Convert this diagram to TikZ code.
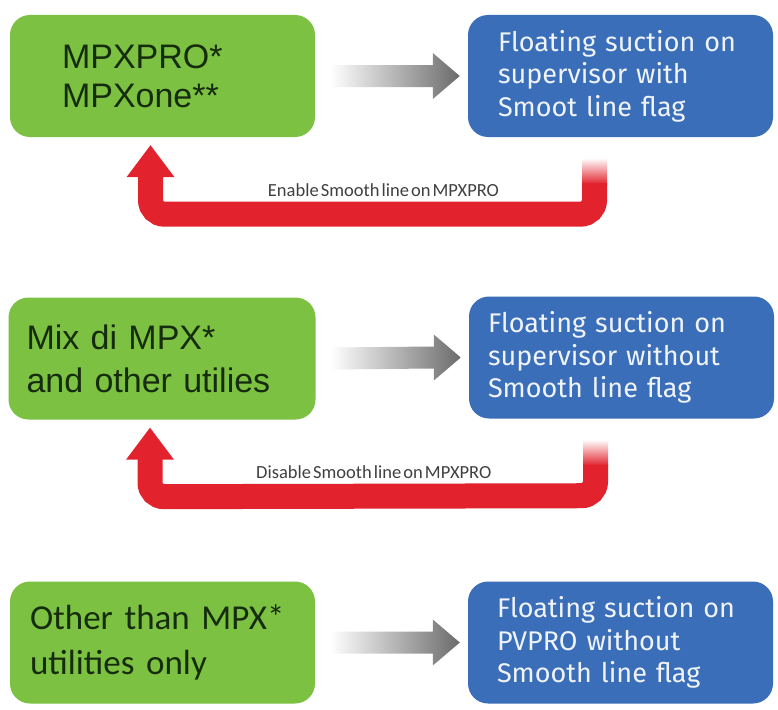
\documentclass[tikz,border=0pt]{standalone}
\usepackage{fontspec}
\setmainfont{Liberation Sans}
\newfontfamily\fira{Fira Sans}
\newfontfamily\carl{Carlito}
\newfontfamily\carltight{Carlito}[WordSpace=0.5]
\usetikzlibrary{calc}
\definecolor{gbox}{RGB}{124,193,66}
\definecolor{bbox}{RGB}{58,110,184}
\definecolor{rarr}{RGB}{226,35,45}
\definecolor{gtext}{RGB}{22,44,14}
\definecolor{btext}{RGB}{240,244,250}
\tikzset{
  greenbox/.style={fill=gbox, rounded corners=20pt, minimum width=305pt, minimum height=122pt,
    text=gtext, align=left, inner ysep=0pt},
  bluebox/.style={fill=bbox, rounded corners=20pt, minimum width=305pt, minimum height=122pt,
    text=btext, align=left, inner ysep=0pt, font=\fira\fontsize{27}{32.5}\selectfont},
  grayarr/.style={left color=white, right color=black!58, draw=none},
  redshaft/.style={draw=rarr, line width=25pt, rounded corners=14pt},
  redhead/.style={fill=rarr, draw=none},
  redfade/.style={top color=white, bottom color=rarr, draw=none},
  redlabel/.style={font=\carltight\fontsize{18.5}{22}\selectfont, text=black!75, inner sep=0pt},
}
\newcommand\grayconn[2]{%
  \shade[grayarr] ($(#1.east)+(15,-11)$) -- ($(#2.west)+(-35,-11)$) -- ($(#2.west)+(-35,-23)$)
    -- ($(#2.west)+(-8,0)$) -- ($(#2.west)+(-35,23)$) -- ($(#2.west)+(-35,11)$)
    -- ($(#1.east)+(15,11)$) -- cycle;}
\newcommand\redconn[2]{%
  \shade[redfade] ($(#1.south)+(-38.5,21)$) rectangle ($(#1.south)+(-13.5,47)$);
  \draw[redshaft] ($(#1.south)+(-26,46)$) -- ($(#1.south)+(-26,77)$)
    -- ($(#2.south)+(-12,77)$) -- ($(#2.south)+(-12,38)$);
  \fill[redhead] ($(#2.south)+(-36,40)$) -- ($(#2.south)+(-12,8)$) -- ($(#2.south)+(12,40)$) -- cycle;}
\begin{document}
\begin{tikzpicture}[x=1pt,y=-1pt]
\useasboundingbox[fill=white] (0,0) rectangle (778,709);

% row 1
\node[greenbox, inner xsep=52pt, text width=201pt, font=\fontsize{34}{39}\selectfont] (g1) at (162.5,76) {MPXPRO*\\MPXone**};
\node[bluebox, inner xsep=30pt, text width=245pt] (b1) at (620.5,76) {Floating suction on\\supervisor with\\Smoot line flag};
\grayconn{g1}{b1}
\redconn{b1}{g1}
\node[redlabel] (l1) at ($(g1.south)!0.5!(b1.south)+(-8,53)$) {Enable Smooth line on MPXPRO};

% row 2
\node[greenbox, inner xsep=18pt, text width=271pt, font=\fontsize{34}{43}\selectfont] (g2) at (162,358.5) {Mix di MPX*\\and other utilies};
\node[bluebox, inner xsep=18pt, text width=267pt] (b2) at (621.5,357.5) {Floating suction on\\supervisor without\\Smooth line flag};
\grayconn{g2}{b2}
\redconn{b2}{g2}
\node[redlabel] (l2) at ($(g2.south)!0.5!(b2.south)+(-18,53)$) {Disable Smooth line on MPXPRO};

% row 3
\node[greenbox, inner xsep=20pt, text width=265pt, font=\carl\fontsize{35}{45}\selectfont] (g3) at (162.5,642.5) {Other than MPX*\\utilities only};
\node[bluebox, inner xsep=29pt, text width=247pt] (b3) at (620.5,642.5) {Floating suction on\\PVPRO without\\Smooth line flag};
\grayconn{g3}{b3}
\end{tikzpicture}
\end{document}
